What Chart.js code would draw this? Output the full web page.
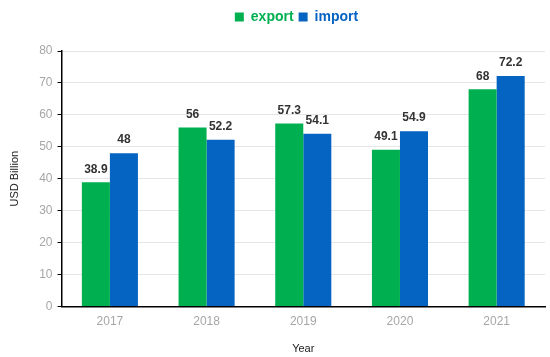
<!DOCTYPE html>
<html>
<head>
<meta charset="utf-8">
<script src="https://cdn.jsdelivr.net/npm/chart.js@4/dist/chart.umd.min.js"></script>
<style>
  html, body { margin: 0; padding: 0; background: #fff; }
  #wrap { width: 550px; height: 357px; position: relative; }
</style>
</head>
<body>
<div id="wrap"><canvas id="chart"></canvas></div>
<script>
// ---------- datos ----------
var years = ['2017', '2018', '2019', '2020', '2021'];
var exportVals = [38.9, 56, 57.3, 49.1, 68];
var importVals = [48, 52.2, 54.1, 54.9, 72.2];
var yTicks = [0, 10, 20, 30, 40, 50, 60, 70, 80];

var GREEN = '#00B050';
var BLUE = '#0563C1';
var FONT = '"Liberation Sans", Arial, sans-serif';

// etiquetas de valor encima de cada barra
var valueLabels = {
    id: 'valueLabels',
    afterDatasetsDraw: function (chart) {
        var ctx = chart.ctx;
        ctx.save();
        ctx.font = 'bold 12px ' + FONT;
        ctx.fillStyle = '#333';
        ctx.textAlign = 'center';
        ctx.textBaseline = 'bottom';
        chart.data.datasets.forEach(function (ds, i) {
            chart.getDatasetMeta(i).data.forEach(function (bar, j) {
                ctx.fillText(String(ds.data[j]), bar.x, bar.y - 7);
            });
        });
        ctx.restore();
    }
};

// espacio extra bajo la leyenda y desplazamiento a la derecha
var legendGap = {
    id: 'legendGap',
    beforeInit: function (chart) {
        var origFit = chart.legend.fit;
        chart.legend.fit = function () {
            origFit.bind(chart.legend)();
            this.height += 17;
        };
    },
    afterLayout: function (chart) {
        chart.legend.left += 22;
        chart.legend.right += 22;
    }
};

new Chart(document.getElementById('chart'), {
    type: 'bar',
    data: {
        labels: years,
        datasets: [
            { label: 'export', data: exportVals, backgroundColor: GREEN },
            { label: 'import', data: importVals, backgroundColor: BLUE }
        ]
    },
    options: {
        responsive: true,
        maintainAspectRatio: false,
        animation: false,
        categoryPercentage: 0.58,
        barPercentage: 1,
        layout: { padding: { left: 4, right: 5, top: 5, bottom: 0 } },
        plugins: {
            tooltip: { enabled: false },
            legend: {
                position: 'top',
                labels: {
                    boxWidth: 9,
                    boxHeight: 9,
                    padding: 5,
                    font: { family: FONT, size: 14, weight: 'bold' },
                    generateLabels: function (chart) {
                        return chart.data.datasets.map(function (ds, i) {
                            return {
                                text: ds.label,
                                fillStyle: ds.backgroundColor,
                                strokeStyle: ds.backgroundColor,
                                lineWidth: 0,
                                fontColor: ds.backgroundColor,
                                datasetIndex: i
                            };
                        });
                    }
                }
            }
        },
        scales: {
            x: {
                grid: { display: false },
                border: { display: true, color: '#000', width: 1.5 },
                ticks: { color: '#a6a6a6', font: { family: FONT, size: 12 }, padding: 0 },
                title: { display: true, text: 'Year', color: '#222', font: { family: FONT, size: 11 }, padding: { top: 14, bottom: 1 } }
            },
            y: {
                min: 0,
                max: 80,
                afterBuildTicks: function (axis) {
                    axis.ticks = yTicks.map(function (v) { return { value: v }; });
                },
                grid: { color: '#e6e6e6', tickColor: '#000', tickLength: 4 },
                border: { display: true, color: '#000', width: 1.5 },
                ticks: { color: '#a6a6a6', font: { family: FONT, size: 12 }, padding: 5 },
                title: { display: true, text: 'USD Billion', color: '#222', font: { family: FONT, size: 11 }, padding: { bottom: 13 } }
            }
        }
    },
    plugins: [valueLabels, legendGap]
});
</script>
</body>
</html>
